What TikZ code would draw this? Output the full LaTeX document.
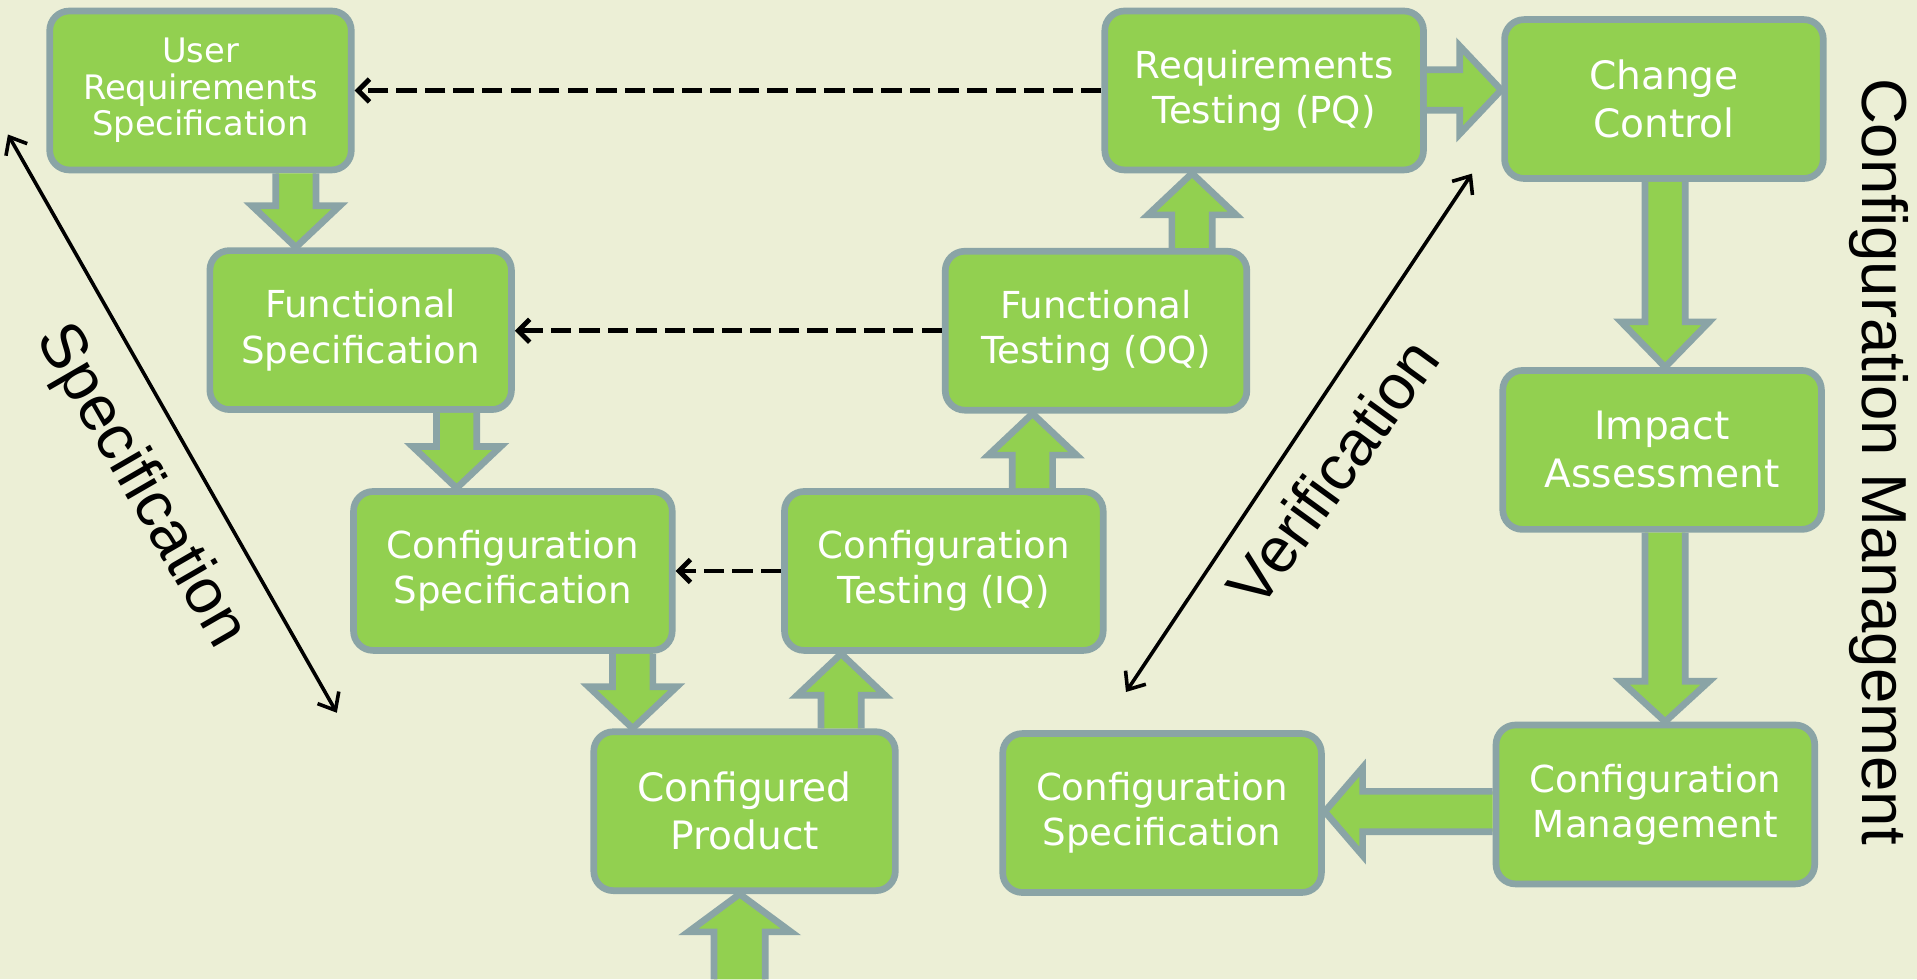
\documentclass[tikz,border=0pt]{standalone}
\usepackage{fontspec}
\setmainfont{Liberation Sans}
\newfontfamily\boxfont{DejaVu Sans}
\usetikzlibrary{positioning,calc,arrows.meta}

\definecolor{bgcream}{RGB}{236,239,214}
\definecolor{boxgreen}{RGB}{146,208,80}
\definecolor{boxedge}{RGB}{138,164,166}

\tikzset{
  stage/.style={draw=boxedge, fill=boxgreen, line width=4.1pt, rounded corners=12pt, text=white, align=center, inner sep=0pt, minimum height=97.5pt, font=\boxfont\fontsize{22.8pt}{27.8pt}\selectfont},
  narrow/.style={minimum width=185pt},
  wide/.style={minimum width=195.5pt},
  big/.style={font=\boxfont\fontsize{24pt}{29.5pt}\selectfont},
  small/.style={font=\boxfont\fontsize{20.7pt}{22.5pt}\selectfont},
  fat/.style={draw=boxedge, fill=boxgreen, line width=4.1pt, line join=miter},
  trace/.style={black, line width=3pt, dash pattern=on 12.5pt off 5pt, -{Straight Barb[length=7pt,width=14pt]}},
  span/.style={black, line width=2.2pt, {Straight Barb[length=9pt,width=15pt]}-{Straight Barb[length=9pt,width=15pt]}},
  side/.style={font=\fontsize{39pt}{47pt}\selectfont, inner sep=0pt}
}

% fat vertical arrow: x, from anchor, to anchor, head offset
\newcommand{\fatv}[4]{%
  \draw[fat] (#1-16.5,0 |- #2) -- ($(#1-16.5,0 |- #3)+(0,#4)$) -- ($(#1-36,0 |- #3)+(0,#4)$) -- (#1,0 |- #3) -- ($(#1+36,0 |- #3)+(0,#4)$) -- ($(#1+16.5,0 |- #3)+(0,#4)$) -- (#1+16.5,0 |- #2);}
% fat horizontal arrow: y, from anchor, to anchor, head offset
\newcommand{\fath}[4]{%
  \draw[fat] (#2 |- 0,#1-16.5) -- ($(#3 |- 0,#1-16.5)+(#4,0)$) -- ($(#3 |- 0,#1-36)+(#4,0)$) -- (#3 |- 0,#1) -- ($(#3 |- 0,#1+36)+(#4,0)$) -- ($(#3 |- 0,#1+16.5)+(#4,0)$) -- (#2 |- 0,#1+16.5);}

\begin{document}
\begin{tikzpicture}[x=0.75pt,y=0.75pt,yscale=-1,xscale=1]
\useasboundingbox (0,0) rectangle (1568,801);
\fill[bgcream] (0,0) rectangle (1568,801);

% Stages
\node[stage, narrow, small] (urs) at (164,74) {User\\Requirements\\Specification};
\node[stage, narrow] (fs) at (295,270) {Functional\\Specification};
\node[stage, wide] (csl) at (419.5,467) {Configuration\\Specification};
\node[stage, narrow, big] (cp) at (609,663.5) {Configured\\Product};
\node[stage, wide] (ct) at (772,467) {Configuration\\Testing (IQ)};
\node[stage, narrow] (ft) at (896.5,270.5) {Functional\\Testing (OQ)};
\node[stage, wide] (rt) at (1034,74) {Requirements\\Testing (PQ)};
\node[stage, wide, big] (cc) at (1361,81) {Change\\Control};
\node[stage, wide, big] (ia) at (1359.5,368) {Impact\\Assessment};
\node[stage, wide] (cm) at (1354,658) {Configuration\\Management};
\node[stage, wide] (csr) at (950.5,665) {Configuration\\Specification};

% Fat arrows
\fatv{242}{urs.south}{fs.north}{-34}
\fatv{373.5}{fs.south}{csl.north}{-34}
\fatv{517.5}{csl.south}{cp.north}{-34}
\fatv{688}{cp.north}{ct.south}{34}
\fatv{844.5}{ct.north}{ft.south}{34}
\fatv{975}{ft.north}{rt.south}{34}
\fath{73.6}{rt.east}{cc.west}{-34}
\fatv{1362}{cc.south}{ia.north}{-37}
\fatv{1362}{ia.south}{cm.north}{-33}
\fath{663.8}{cm.west}{csr.east}{31}

% Feed into the configured product
\coordinate (feed) at (605,801);
\draw[fat] ($(feed)+(-21,0)$) -- ($(feed |- cp.south)+(-21,31)$) -- ($(feed |- cp.south)+(-42,31)$) -- (feed |- cp.south) -- ($(feed |- cp.south)+(42,31)$) -- ($(feed |- cp.south)+(21,31)$) -- ($(feed)+(21,0)$);

% Dashed traces
\draw[trace] (rt.west) -- (rt.west -| urs.east);
\draw[trace] (ft.west) -- (ft.west -| fs.east);
\draw[trace] (ct.west) -- (ct.west -| csl.east);

% Spans
\coordinate (spectop) at (6.5,110);
\coordinate (specbot) at (275.5,583);
\coordinate (vertop) at (1204,142);
\coordinate (verbot) at (921,566);
\draw[span] (spectop) -- (specbot);
\draw[span] (verbot) -- (vertop);

% Side labels
\node[side, rotate=-60] (speclab) at (114.5,398) {Specification};
\node[side, rotate=54] (verlab) at (1090,386) {Verification};
\node[side, rotate=-90] (cmlab) at (1536.5,377.5) {Configuration Management};

\end{tikzpicture}
\end{document}
